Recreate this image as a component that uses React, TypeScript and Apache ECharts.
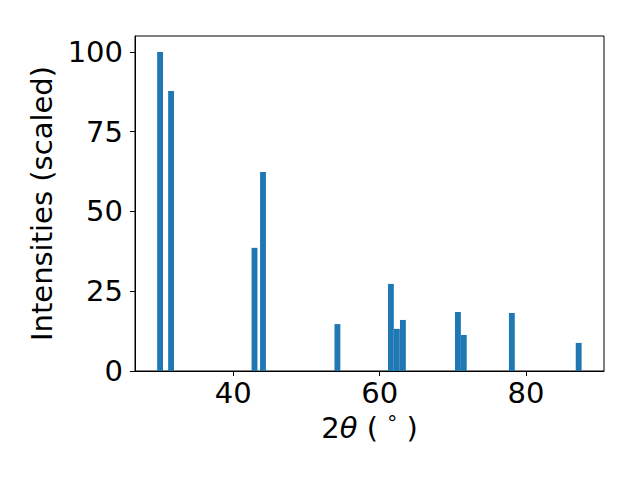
import React, { useEffect, useRef } from "react";
import * as echarts from "echarts";

// 2θ positions (degrees) and scaled intensities
const twoTheta = [30.0, 31.5, 42.9, 44.06, 54.23, 61.54, 62.36, 63.18, 70.7, 71.5, 78.07, 87.2];
const intensities = [100, 87.8, 38.6, 62.4, 14.7, 27.3, 13.2, 16.0, 18.5, 11.3, 18.2, 8.8];
const xTicks = [40, 60, 80];
const yTicks = [0, 25, 50, 75, 100];

const BAR_WIDTH = 0.8;
const FONT = "DejaVu Sans";
const FS = 29;

export default function App() {
  const ref = useRef<HTMLDivElement>(null);
  useEffect(() => {
    if (!ref.current) return;
    const chart = echarts.init(ref.current, undefined, { renderer: "svg" });
    const data = twoTheta.map((x, i) => [x, intensities[i]]);
    chart.setOption({
      animation: false,
      backgroundColor: "#ffffff",
      grid: {
        left: 135,
        right: 36,
        top: 36,
        bottom: 109,
        show: true,
        borderColor: "#000",
        borderWidth: 1,
        backgroundColor: "transparent",
      },
      xAxis: {
        type: "value",
        min: 26.57,
        max: 90.66,
        splitLine: { show: false },
        axisLine: { show: true, onZero: false, lineStyle: { color: "#000", width: 1 } },
        axisTick: {
          show: true,
          inside: false,
          length: 5,
          lineStyle: { color: "#000", width: 1 },
          customValues: xTicks,
        },
        axisLabel: {
          color: "#000",
          fontFamily: FONT,
          fontSize: FS,
          margin: 7,
          customValues: xTicks,
          formatter: (v: number) => String(v),
        },
        name: "{a|2}{b|θ}{a| ( }{c|°}{a| )}",
        nameLocation: "middle",
        nameGap: 42,
        nameTextStyle: {
          color: "#000",
          fontFamily: FONT,
          fontSize: FS,
          rich: {
            a: { fontFamily: FONT, fontSize: FS, color: "#000" },
            b: { fontFamily: FONT, fontSize: FS, fontStyle: "italic", color: "#000" },
            c: { fontFamily: FONT, fontSize: 20, color: "#000", verticalAlign: "top", padding: [0, 0, 10, 0] },
          },
        },
      },
      yAxis: {
        type: "value",
        min: 0,
        max: 105,
        splitLine: { show: false },
        axisLine: { show: true, lineStyle: { color: "#000", width: 1 } },
        axisTick: {
          show: true,
          inside: false,
          length: 5,
          lineStyle: { color: "#000", width: 1 },
          customValues: yTicks,
        },
        axisLabel: {
          color: "#000",
          fontFamily: FONT,
          fontSize: FS,
          margin: 12,
          customValues: yTicks,
          formatter: (v: number) => String(v),
        },
        name: "Intensities (scaled)",
        nameLocation: "middle",
        nameGap: 72,
        nameTextStyle: { color: "#000", fontFamily: FONT, fontSize: FS },
      },
      series: [
        {
          type: "custom",
          clip: true,
          data,
          encode: { x: 0, y: 1 },
          renderItem: (params: any, api: any) => {
            const x = api.value(0);
            const y = api.value(1);
            const p0 = api.coord([x - BAR_WIDTH / 2, y]);
            const p1 = api.coord([x + BAR_WIDTH / 2, 0]);
            return {
              type: "rect",
              shape: { x: p0[0], y: p0[1], width: p1[0] - p0[0], height: p1[1] - p0[1] },
              style: { fill: "#1f77b4" },
            };
          },
        },
      ],
    });
    return () => chart.dispose();
  }, []);
  return (
    <div
      ref={ref}
      style={{ position: "fixed", left: 0, top: 0, width: 640, height: 480, background: "#fff" }}
    />
  );
}
